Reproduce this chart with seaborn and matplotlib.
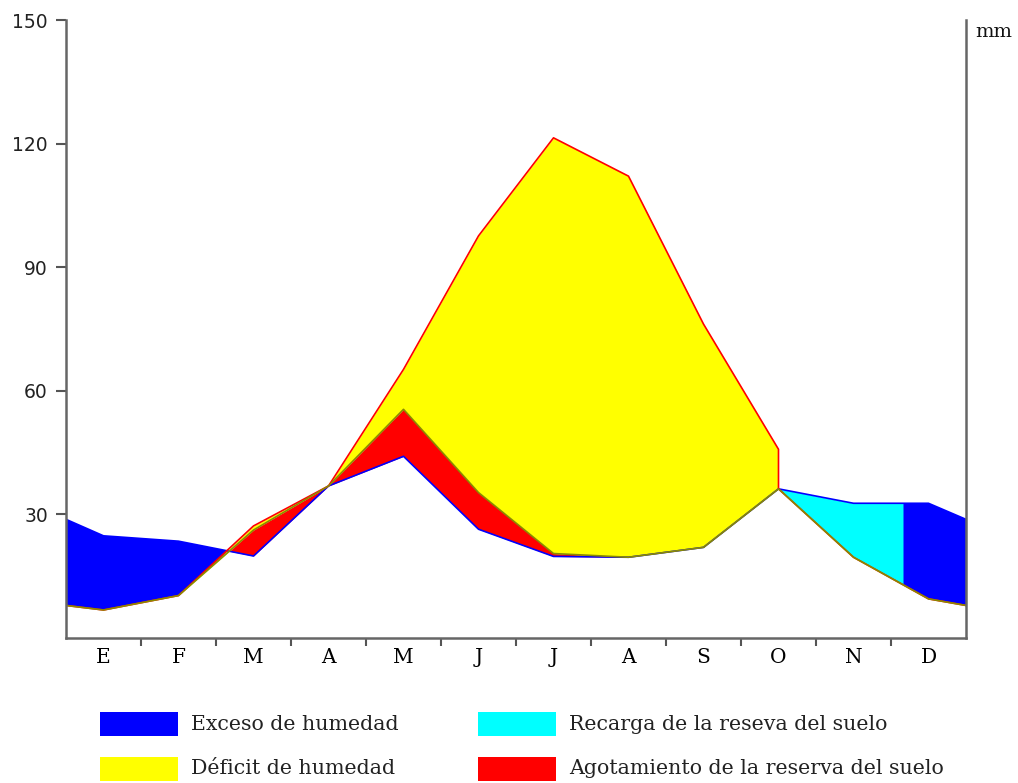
import numpy as np
import pandas as pd
import matplotlib
matplotlib.use("Agg")
import matplotlib.pyplot as plt
from matplotlib.patches import Rectangle
import seaborn as sns

# Monthly water balance (mm), values at the centre of each month
months = ["E", "F", "M", "A", "M", "J", "J", "A", "S", "O", "N", "D"]
precip = [24.8, 23.5, 19.9, 36.9, 44.1, 26.4, 19.8, 19.6, 22.0, 36.2, 32.7, 32.7]
etp = [6.8, 10.3, 27.2, 36.9, 65.2, 97.6, 121.4, 112.1, 76.2, 45.8, 19.6, 9.5]
etr = [6.8, 10.3, 26.2, 36.9, 55.5, 35.3, 20.5, 19.6, 22.0, 36.2, 19.6, 9.5]

# Values at the start/end of the year (between December and January)
precip_edge = 28.8
etp_edge = 7.9
# Potential ET once the dry season closes in October
etp_oct_close = 36.2
# Position (in months) where the soil reserve is full again
recharge_end = 11.16

legend_labels = ["Exceso de humedad", "Déficit de humedad",
                 "Recarga de la reseva del suelo", "Agotamiento de la reserva del suelo"]
legend_colors = ["#0000FF", "#FFFF00", "#00FFFF", "#FF0000"]

# Build the curves along the year axis (October appears twice: dry season end / recharge start)
centres = [i + 0.5 for i in range(12)]
x = [0.0] + centres[:10] + [centres[9]] + centres[10:] + [12.0]
P = [precip_edge] + precip[:10] + [precip[9]] + precip[10:] + [precip_edge]
ETP = [etp_edge] + etp[:10] + [etp_oct_close] + etp[10:] + [etp_edge]
ETR = [etp_edge] + etr[:10] + [etr[9]] + etr[10:] + [etp_edge]

# Split point between recharge and surplus
k = 11
pr = np.interp(recharge_end, x[k:], P[k:])
er = np.interp(recharge_end, x[k:], ETR[k:])
ep = np.interp(recharge_end, x[k:], ETP[k:])
pos = 13
x.insert(pos, recharge_end)
P.insert(pos, pr)
ETR.insert(pos, er)
ETP.insert(pos, ep)

df = pd.DataFrame({"x": x, "P": P, "ETP": ETP, "ETR": ETR})
xa = df["x"].to_numpy()
Pa = df["P"].to_numpy()
Ea = df["ETR"].to_numpy()
Ta = df["ETP"].to_numpy()
idx = np.arange(len(xa))

sns.set_style("white")
plt.rcParams["font.family"] = ["DejaVu Serif"]

fig = plt.figure(figsize=(10.18, 7.83), dpi=100)
ax = fig.add_axes([66 / 1018, 1 - 638 / 783, 900 / 1018, 618 / 783])

wet = Pa >= Ea
surplus = wet & ((idx < 4) | (xa >= recharge_end))
recharge = wet & (idx >= 11) & (xa <= recharge_end)

ax.fill_between(xa, Ea, Pa, where=surplus, interpolate=True, color=legend_colors[0], lw=0)
ax.fill_between(xa, Ea, Pa, where=recharge, interpolate=True, color=legend_colors[2], lw=0)
ax.fill_between(xa, Ea, Ta, color=legend_colors[1], lw=0)
ax.fill_between(xa, Pa, Ea, where=Ea >= Pa, interpolate=True, color=legend_colors[3], lw=0)

sns.lineplot(data=df, x="x", y="P", ax=ax, estimator=None, sort=False, color="#0000FF", lw=1.2)
sns.lineplot(data=df, x="x", y="ETP", ax=ax, estimator=None, sort=False, color="#FF0000", lw=1.2)
sns.lineplot(data=df, x="x", y="ETR", ax=ax, estimator=None, sort=False, color="#8A8A00", lw=1.2)

ax.set_xlim(0, 12)
ax.set_ylim(0, 150)
ax.set_xlabel("")
ax.set_ylabel("")

ax.set_yticks([30, 60, 90, 120, 150])
ax.set_yticklabels(["30", "60", "90", "120", "150"], family="DejaVu Sans", fontsize=13.5, color="#222222")
ax.set_xticks(range(1, 12))
ax.set_xticklabels([])
ax.set_xticks(centres, minor=True)
ax.set_xticklabels(months, minor=True, fontsize=14.5, color="#000000")
ax.tick_params(axis="x", which="major", direction="out", length=6, width=1.5, color="#555555", bottom=True)
ax.tick_params(axis="x", which="minor", length=0, pad=7)
ax.tick_params(axis="y", direction="out", length=7, width=1.5, color="#555555", left=True, pad=6)

for side in ["left", "bottom", "right"]:
    ax.spines[side].set_color("#666666")
    ax.spines[side].set_linewidth(1.8)
ax.spines["top"].set_visible(False)

fig.text(975 / 1018, 1 - 32 / 783, "mm", fontsize=14, color="#111111", va="center", ha="left")

# Legend: two columns of colour swatches with labels
col_x = [100, 478]
row_y = [724, 769]
for i, (lab, col) in enumerate(zip(legend_labels, legend_colors)):
    cx = col_x[i // 2]
    cy = row_y[i % 2]
    fig.patches.append(Rectangle((cx / 1018, 1 - (cy + 12) / 783), 78 / 1018, 24 / 783,
                                 transform=fig.transFigure, facecolor=col, edgecolor="none"))
    fig.text((cx + 91) / 1018, 1 - cy / 783, lab, fontsize=14.8, color="#222222",
             va="center", ha="left")

fig.savefig("out.png", dpi=100)
